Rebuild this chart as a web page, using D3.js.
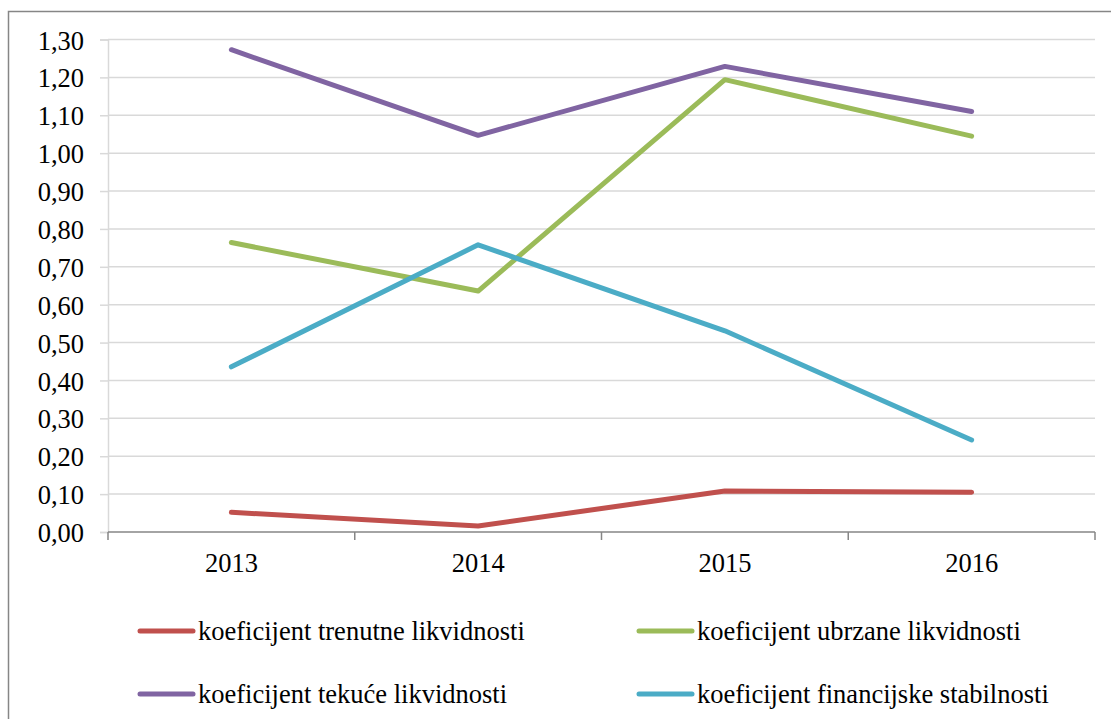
<!DOCTYPE html>
<html>
<head>
<meta charset="utf-8">
<script src="https://cdn.jsdelivr.net/npm/d3@7"></script>
<style>
  body { margin: 0; background: #fff; }
  svg { display: block; }
</style>
</head>
<body>
<svg id="chart" width="1111" height="719"></svg>
<script>
const years = ['2013', '2014', '2015', '2016'];
const trenutne = [0.052, 0.016, 0.108, 0.105];
const ubrzane = [0.764, 0.636, 1.194, 1.045];
const tekuce = [1.273, 1.047, 1.229, 1.110];
const financijske = [0.436, 0.758, 0.531, 0.243];
const yTicks = d3.range(0, 14).map(i => i / 10);

const series = [
  {name: 'koeficijent trenutne likvidnosti', values: trenutne, color: '#C0504D'},
  {name: 'koeficijent ubrzane likvidnosti', values: ubrzane, color: '#9BBB59'},
  {name: 'koeficijent tekuće likvidnosti', values: tekuce, color: '#8064A2'},
  {name: 'koeficijent financijske stabilnosti', values: financijske, color: '#4BACC6'},
];

const font = "'Liberation Serif'";
const fontSize = 26.5;

const svg = d3.select('#chart');

// outer chart border (runs off the right and bottom of the picture)
svg.append('rect')
  .attr('x', 8.5).attr('y', 11.5)
  .attr('width', 1120).attr('height', 730)
  .attr('fill', 'white')
  .attr('stroke', '#868686')
  .attr('stroke-width', 1.5);

const plotLeft = 108, plotRight = 1095, plotTop = 39.5, plotBottom = 532;

const x = d3.scaleBand().domain(years).range([plotLeft, plotRight]);
const y = d3.scaleLinear().domain([0, 1.3]).range([plotBottom, plotTop]);

// gridlines
svg.append('g')
  .selectAll('line')
  .data(yTicks.filter(d => d > 0))
  .join('line')
  .attr('x1', plotLeft).attr('x2', plotRight)
  .attr('y1', d => y(d)).attr('y2', d => y(d))
  .attr('stroke', '#d9d9d9')
  .attr('stroke-width', 1.5);

// y axis
svg.append('g')
  .attr('transform', `translate(${plotLeft},0)`)
  .call(d3.axisLeft(y).tickValues(yTicks).tickSize(8).tickPadding(16)
    .tickFormat(d => d3.format('.2f')(d).replace('.', ',')))
  .call(g => g.select('.domain').attr('stroke', '#d9d9d9').attr('stroke-width', 1.5))
  .call(g => g.selectAll('.tick line').attr('stroke', '#d9d9d9').attr('stroke-width', 1.5))
  .call(g => g.selectAll('text')
    .attr('font-size', fontSize)
    .attr('dy', '0.36em')
    .attr('fill', '#000')
    .style('font-family', font));

// x axis with boundary ticks
const xg = svg.append('g');
xg.append('line')
  .attr('x1', plotLeft).attr('x2', plotRight)
  .attr('y1', plotBottom).attr('y2', plotBottom)
  .attr('stroke', '#868686').attr('stroke-width', 1.5);
xg.selectAll('line.tk')
  .data(years.map(d => x(d)).concat([plotRight]))
  .join('line')
  .attr('class', 'tk')
  .attr('x1', d => d).attr('x2', d => d)
  .attr('y1', plotBottom).attr('y2', plotBottom + 8)
  .attr('stroke', '#868686').attr('stroke-width', 1.5);
xg.selectAll('text')
  .data(years)
  .join('text')
  .attr('x', d => x(d) + x.bandwidth() / 2)
  .attr('y', plotBottom + 40)
  .attr('text-anchor', 'middle')
  .attr('font-size', fontSize)
  .style('font-family', font)
  .text(d => d);

// series lines
const line = d3.line()
  .x((d, i) => x(years[i]) + x.bandwidth() / 2)
  .y(d => y(d));

svg.append('g')
  .selectAll('path')
  .data(series)
  .join('path')
  .attr('d', d => line(d.values))
  .attr('fill', 'none')
  .attr('stroke', d => d.color)
  .attr('stroke-width', 5)
  .attr('stroke-linecap', 'round')
  .attr('stroke-linejoin', 'round');

// legend
const legendPos = [[140, 631], [639, 631], [140, 694], [639, 694]];
const lg = svg.append('g')
  .selectAll('g')
  .data(series)
  .join('g')
  .attr('transform', (d, i) => `translate(${legendPos[i][0]},${legendPos[i][1]})`);
lg.append('line')
  .attr('x1', 0).attr('x2', 53)
  .attr('stroke', d => d.color)
  .attr('stroke-width', 5)
  .attr('stroke-linecap', 'round');
lg.append('text')
  .attr('x', 58)
  .attr('y', 9)
  .attr('font-size', fontSize)
  .style('font-family', font)
  .text(d => d.name);
</script>
</body>
</html>
